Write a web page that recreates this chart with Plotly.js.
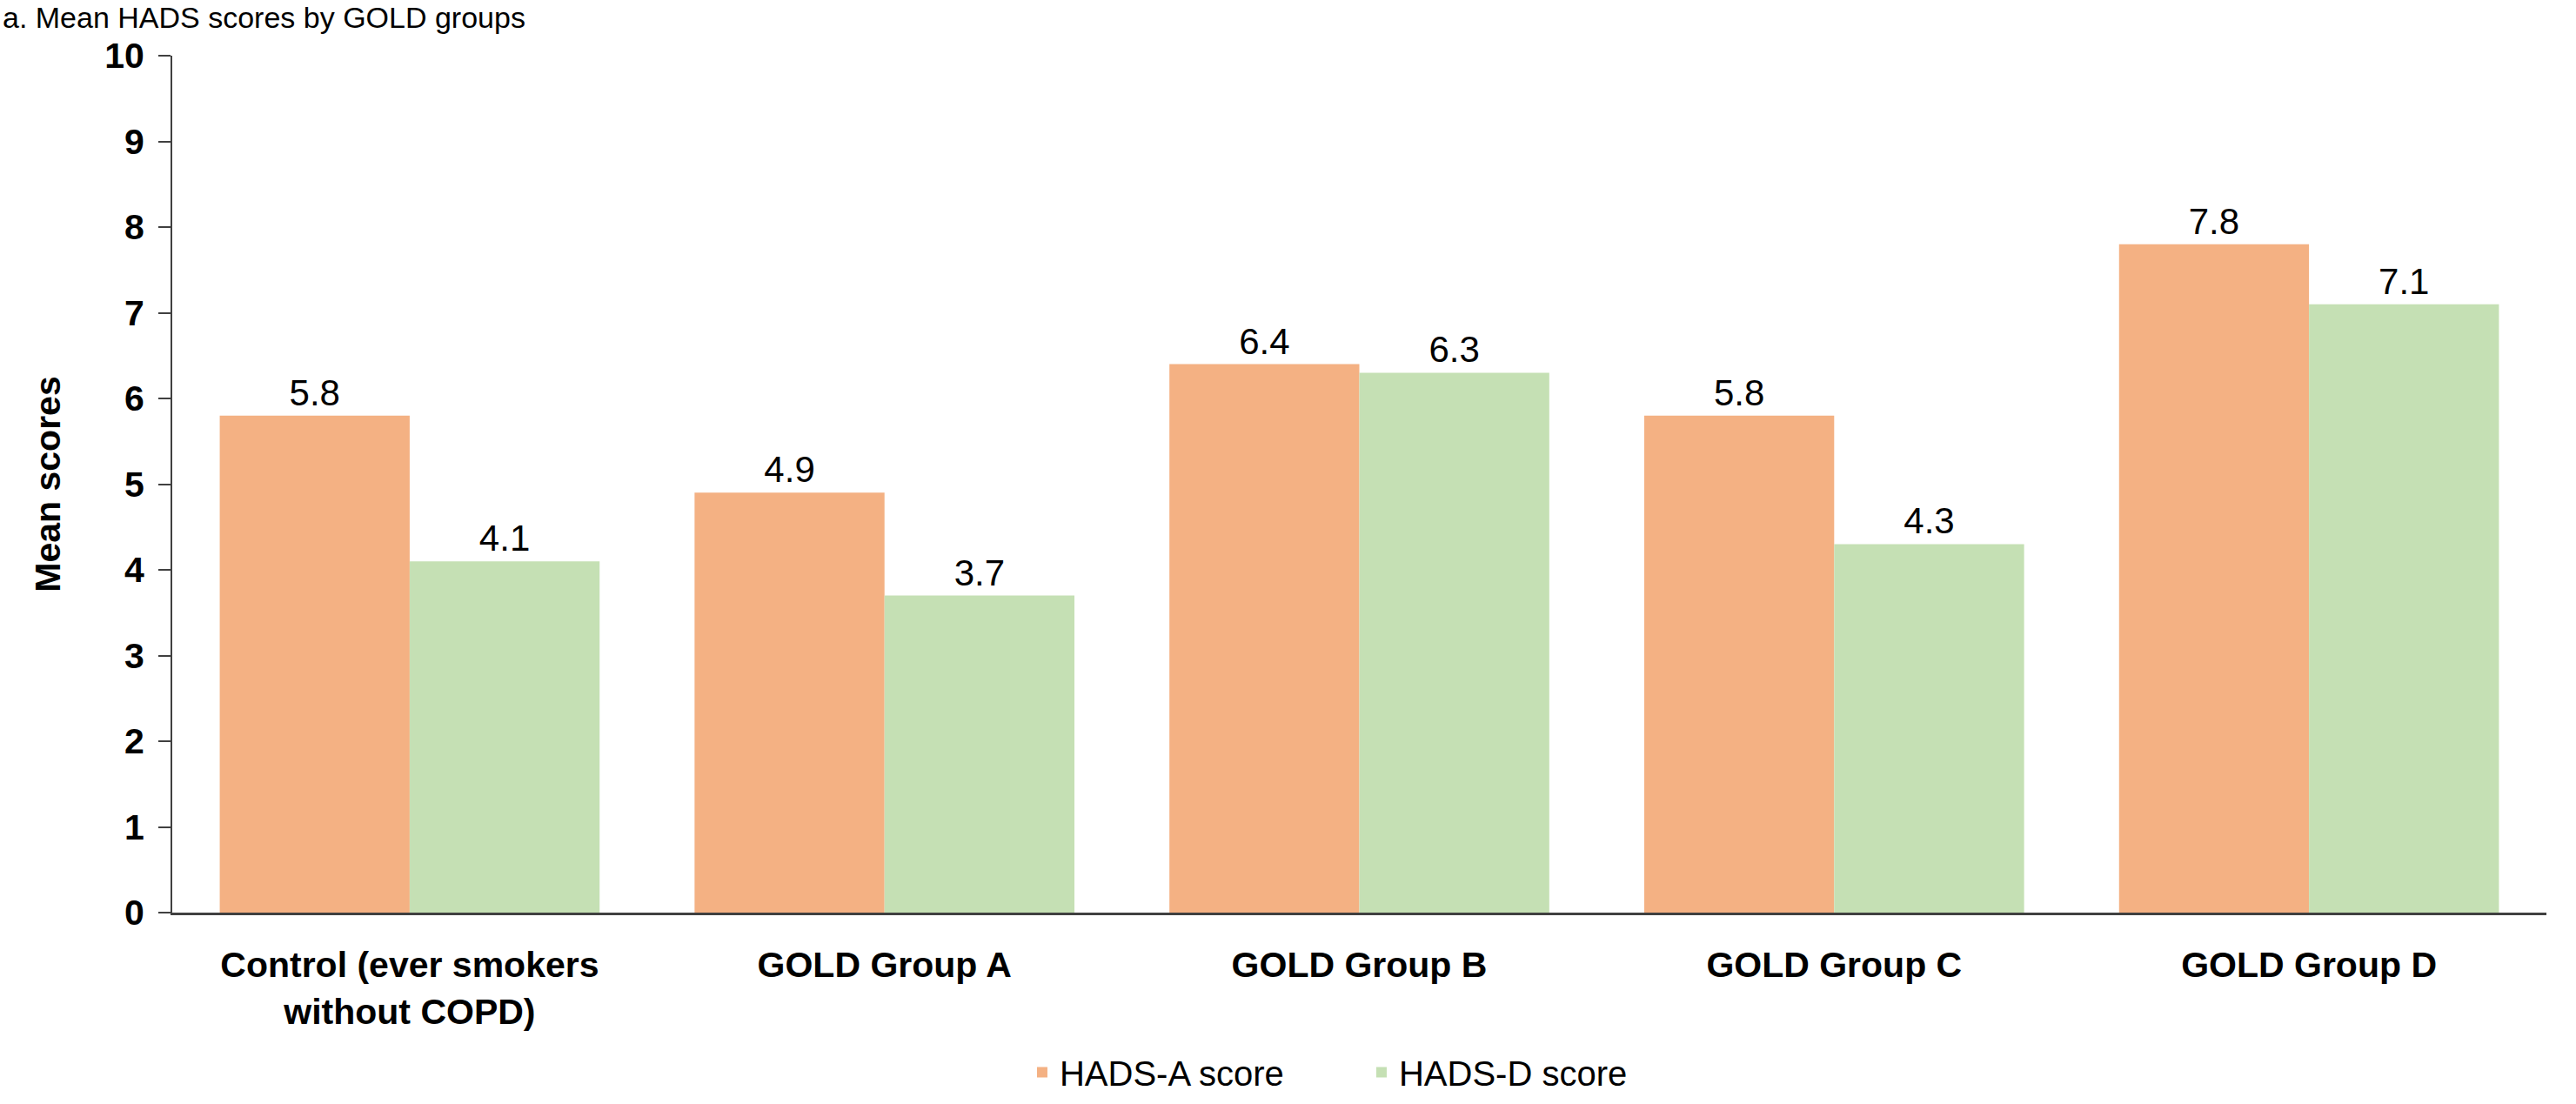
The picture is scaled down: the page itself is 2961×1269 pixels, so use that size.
<!DOCTYPE html>
<html>
<head>
<meta charset="utf-8">
<script src="https://cdn.plot.ly/plotly-3.0.1.min.js"></script>
<style>
html,body{margin:0;padding:0;background:#fff;overflow:hidden;}
#chart{width:2961px;height:1269px;}
</style>
</head>
<body>
<div id="chart"></div>
<script>
var categories = ["Control (ever smokers<br>without COPD)", "GOLD Group A", "GOLD Group B", "GOLD Group C", "GOLD Group D"];
var hadsA = [5.8, 4.9, 6.4, 5.8, 7.8];
var hadsD = [4.1, 3.7, 6.3, 4.3, 7.1];
var seriesNames = ["HADS-A score", "HADS-D score"];
var yTicks = [0, 1, 2, 3, 4, 5, 6, 7, 8, 9, 10];
var titleText = "a. Mean HADS scores by GOLD groups";

var font = "Arial, 'Liberation Sans', Helvetica, sans-serif";

function barTrace(name, vals, color) {
  return {
    type: "bar",
    name: name,
    x: categories,
    y: vals,
    marker: {color: color, line: {width: 0}},
    text: vals.map(function(v){ return v.toFixed(1); }),
    textposition: "outside",
    textfont: {family: font, size: 42, color: "#000"},
    cliponaxis: false,
    hoverinfo: "none"
  };
}

var data = [
  barTrace(seriesNames[0], hadsA, "#F4B183"),
  barTrace(seriesNames[1], hadsD, "#C5E0B4")
];

var layout = {
  width: 2961,
  height: 1269,
  margin: {l: 198, r: 34, t: 64, b: 220, autoexpand: false},
  paper_bgcolor: "#fff",
  plot_bgcolor: "#fff",
  barmode: "group",
  bargap: 0.2,
  bargroupgap: 0,
  showlegend: true,
  legend: {
    orientation: "h",
    x: 0.502, xanchor: "center",
    y: -(1269 - 1049 - 4) / 985, yanchor: "bottom",
    font: {family: font, size: 40, color: "#000"},
    entrywidth: 345,
    entrywidthmode: "pixels",
    itemwidth: 30,
    traceorder: "normal"
  },
  xaxis: {
    type: "category",
    showline: true,
    linecolor: "#404040",
    linewidth: 3,
    ticks: "",
    showgrid: false,
    ticklabelstandoff: 22,
    tickfont: {family: font, size: 41, color: "#000", weight: "bold"},
    automargin: false
  },
  yaxis: {
    range: [0, 10],
    tickvals: yTicks,
    ticktext: yTicks.map(String),
    showline: true,
    linecolor: "#404040",
    linewidth: 2,
    ticks: "outside",
    ticklen: 14,
    tickwidth: 2,
    tickcolor: "#404040",
    showgrid: false,
    zeroline: false,
    ticklabelstandoff: 8,
    tickfont: {family: font, size: 41, color: "#000", weight: "bold"},
    title: {text: "Mean scores", font: {family: font, size: 41, color: "#000", weight: "bold"}, standoff: 38},
    automargin: false
  },
  annotations: [{
    text: titleText,
    xref: "paper", yref: "paper",
    x: -196/2729, xanchor: "left",
    y: 1049 / 985, yanchor: "top",
    showarrow: false,
    borderpad: 0,
    font: {family: font, size: 34, color: "#000"}
  }]
};

Plotly.newPlot("chart", data, layout, {staticPlot: true, displayModeBar: false});
</script>
</body>
</html>
